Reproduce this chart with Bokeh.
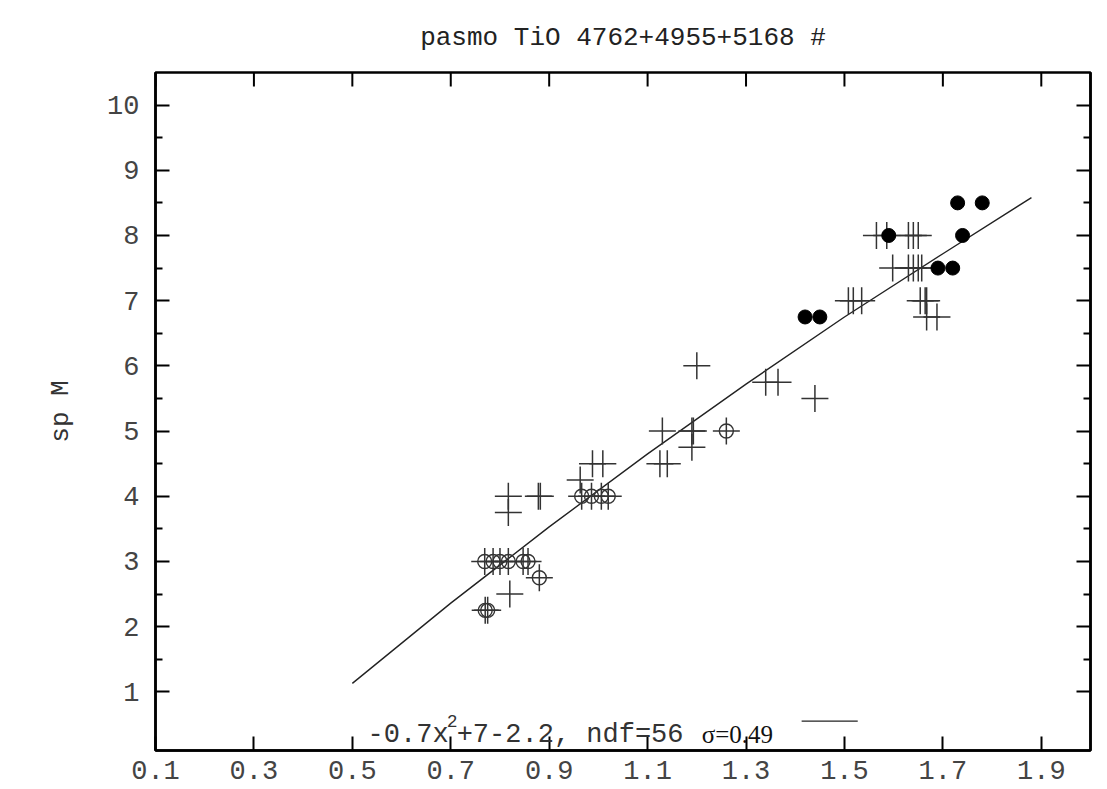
from bokeh.plotting import figure
from bokeh.models import FixedTicker, LinearAxis, Range1d, Label, Arrow
from bokeh.embed import file_html
from bokeh.resources import INLINE

# ---- data ----
cross_x = [0.82, 0.817, 0.817, 0.878, 0.882, 0.963, 0.988, 1.009, 1.125, 1.14,
           1.19, 1.13, 1.19, 1.193, 1.44, 1.34, 1.365, 1.20,
           1.667, 1.688, 1.508, 1.518, 1.535, 1.654, 1.664, 1.667,
           1.598, 1.63, 1.64, 1.65, 1.657, 1.565, 1.586, 1.63, 1.64, 1.65]
cross_y = [2.5, 3.75, 4.0, 4.0, 4.0, 4.25, 4.5, 4.5, 4.5, 4.5,
           4.75, 5.0, 5.0, 5.0, 5.5, 5.75, 5.75, 6.0,
           6.75, 6.75, 7.0, 7.0, 7.0, 7.0, 7.0, 7.0,
           7.5, 7.5, 7.5, 7.5, 7.5, 8.0, 8.0, 8.0, 8.0, 8.0]

ring_x = [0.77, 0.775, 0.88, 0.769, 0.786, 0.80, 0.817, 0.847, 0.857,
          0.966, 0.986, 1.006, 1.02, 1.26]
ring_y = [2.25, 2.25, 2.75, 3.0, 3.0, 3.0, 3.0, 3.0, 3.0,
          4.0, 4.0, 4.0, 4.0, 5.0]

dot_x = [1.42, 1.45, 1.59, 1.69, 1.72, 1.74, 1.73, 1.78]
dot_y = [6.75, 6.75, 8.0, 7.5, 7.5, 8.0, 8.5, 8.5]

fit_x = [0.5, 0.7, 0.9, 1.1, 1.3, 1.5, 1.7, 1.88]
fit_y = [1.13, 2.36, 3.53, 4.65, 5.72, 6.75, 7.72, 8.58]

x_ticks = [0.1, 0.3, 0.5, 0.7, 0.9, 1.1, 1.3, 1.5, 1.7, 1.9]
x_tick_labels = ["0.1", "0.3", "0.5", "0.7", "0.9", "1.1", "1.3", "1.5", "1.7", "1.9"]
y_ticks = [1, 2, 3, 4, 5, 6, 7, 8, 9, 10]
y_minor = [1.5, 2.5, 3.5, 4.5, 5.5, 6.5, 7.5, 8.5, 9.5]

title_text = "pasmo TiO 4762+4955+5168 #"
y_label = "sp M"
legend_parts = ["-0.7x", "2", "+7-2.2, ndf=56", "σ=0.49"]

X_LO, X_HI = 0.1, 2.0
Y_LO, Y_HI = 0.1, 10.5
TOP_TICK = 0.215   # tick length on the top edge, in y units (about 14 px)

MONO = "Liberation Mono"
INK = "#333333"
LBL = "#444444"

p = figure(width=1107, height=789,
           x_range=Range1d(X_LO, X_HI), y_range=Range1d(Y_LO, Y_HI),
           output_backend="svg", toolbar_location=None,
           x_axis_location=None, y_axis_location=None,
           min_border_left=155, min_border_right=17,
           min_border_top=71, min_border_bottom=39,
           title=title_text)
p.grid.visible = False
p.background_fill_color = "white"
p.border_fill_color = "white"
p.outline_line_color = "black"
p.outline_line_width = 2.5

p.title.text_font = MONO
p.title.text_font_size = "26px"
p.title.text_font_style = "normal"
p.title.text_color = "#222222"
p.title.align = "center"
p.title.standoff = 40


def style_axis(ax):
    ax.axis_line_color = "black"
    ax.axis_line_width = 2.5
    ax.major_tick_line_color = "black"
    ax.major_tick_line_width = 2
    ax.major_tick_in = 14
    ax.major_tick_out = 0
    ax.minor_tick_line_color = "black"
    ax.minor_tick_line_width = 2
    ax.minor_tick_in = 7
    ax.minor_tick_out = 0
    ax.major_label_text_font = MONO
    ax.major_label_text_color = LBL
    ax.major_label_text_font_size = "27px"


# bottom axis with labels
xb = LinearAxis(ticker=FixedTicker(ticks=x_ticks, minor_ticks=[]),
                major_label_overrides={t: s for t, s in zip(x_ticks, x_tick_labels)})
style_axis(xb)
xb.major_label_standoff = 10
p.add_layout(xb, "below")

# left axis with labels
yl = LinearAxis(ticker=FixedTicker(ticks=y_ticks, minor_ticks=y_minor), axis_label=y_label)
style_axis(yl)
yl.major_label_standoff = 16
yl.axis_label_standoff = 28
yl.axis_label_text_font = MONO
yl.axis_label_text_font_size = "26px"
yl.axis_label_text_font_style = "normal"
yl.axis_label_text_color = INK
p.add_layout(yl, "left")

# right axis: tick marks only
yr = LinearAxis(ticker=FixedTicker(ticks=y_ticks, minor_ticks=y_minor),
                major_label_overrides={t: "" for t in y_ticks})
style_axis(yr)
yr.major_label_standoff = 0
p.add_layout(yr, "right")

# top edge tick marks (mirror of the x ticks), drawn as short segments inside the frame
n_top = len(x_ticks)
p.segment(x0=x_ticks, y0=[Y_HI] * n_top, x1=x_ticks, y1=[Y_HI - TOP_TICK] * n_top,
          line_color="black", line_width=2)

# data
p.line(fit_x, fit_y, line_color="#222222", line_width=1.4)
p.scatter(cross_x, cross_y, marker="cross", size=27, line_color=INK, line_width=1.5)
p.scatter(ring_x, ring_y, marker="cross", size=27, line_color=INK, line_width=1.5)
p.scatter(ring_x, ring_y, marker="circle", size=14, fill_color=None, line_color=INK, line_width=1.4)
p.scatter(dot_x, dot_y, marker="circle", size=14, fill_color="black", line_color="black")

# legend (text + sample line)
leg_y = 0.345
p.add_layout(Label(x=0.531, y=leg_y, text=legend_parts[0], text_font=MONO, text_font_size="27px",
                   text_color=INK, text_baseline="alphabetic"))
p.add_layout(Label(x=0.692, y=0.56, text=legend_parts[1], text_font=MONO, text_font_size="18px",
                   text_color=INK, text_baseline="alphabetic"))
p.add_layout(Label(x=0.712, y=leg_y, text=legend_parts[2], text_font=MONO, text_font_size="27px",
                   text_color=INK, text_baseline="alphabetic"))
p.add_layout(Label(x=1.21, y=leg_y, text=legend_parts[3], text_font="Liberation Serif",
                   text_font_size="25px", text_color="#111111", text_baseline="alphabetic"))
p.add_layout(Arrow(end=None, x_start=1.413, y_start=0.55, x_end=1.527, y_end=0.55,
                   line_color="#222222", line_width=1.3))

open("out.html", "w").write(file_html(p, INLINE))
